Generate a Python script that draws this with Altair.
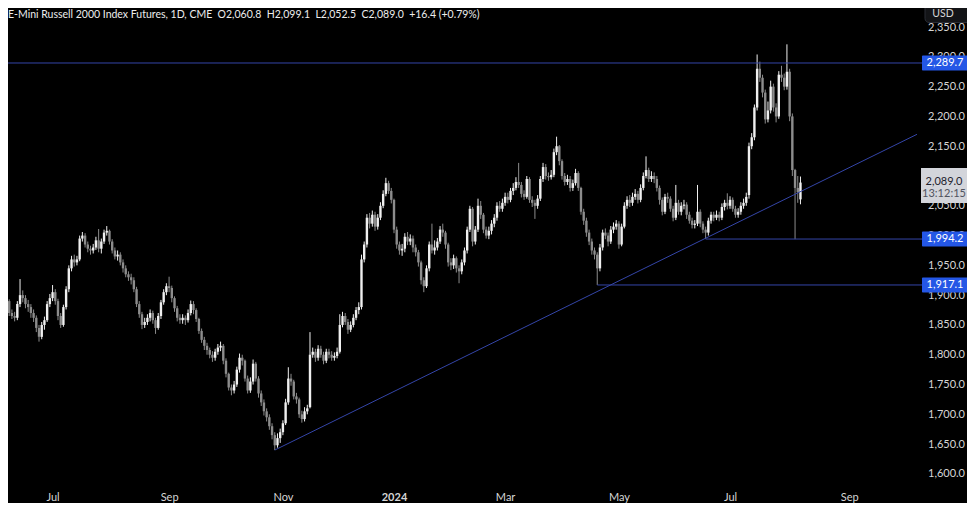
import altair as alt
import pandas as pd

# ---- daily OHLC, one value per trading day (Jun 7 2023 .. Aug 7 2024) ----
opens = [
    1878,1890,1870,1865,1862,1885,1900,1895,1885,1880,
    1870,1862,1845,1830,1850,1858,1885,1895,1905,1890,
    1865,1850,1880,1910,1945,1960,1955,1960,1995,2000,
    1985,1978,1975,1980,1992,1978,1990,2005,2008,1990,
    1975,1965,1968,1955,1945,1935,1930,1925,1910,1885,
    1868,1850,1855,1862,1870,1858,1845,1865,1888,1905,
    1915,1912,1895,1878,1862,1858,1862,1858,1870,1885,
    1875,1860,1840,1825,1815,1808,1800,1795,1805,1812,
    1815,1790,1768,1745,1740,1750,1775,1795,1790,1760,
    1740,1755,1785,1760,1735,1720,1705,1695,1680,1665,
    1648,1660,1670,1685,1720,1760,1755,1730,1725,1700,
    1692,1705,1712,1800,1805,1795,1810,1800,1790,1805,
    1800,1795,1798,1805,1850,1865,1855,1842,1850,1862,
    1875,1880,1960,1985,2030,2020,2035,2015,2030,2050,
    2070,2088,2075,2060,2010,1985,1975,1978,1998,1990,
    1995,1980,1972,1955,1925,1915,1945,1985,1975,1980,
    1990,2010,2005,1985,1955,1950,1962,1945,1940,1955,
    1975,2010,2045,1990,2010,2050,2035,2010,2000,2008,
    2020,2030,2050,2045,2055,2065,2060,2075,2080,2090,
    2085,2070,2065,2095,2060,2055,2050,2062,2095,2115,
    2100,2098,2102,2140,2150,2125,2100,2090,2095,2080,
    2088,2105,2080,2040,2025,2005,1990,1975,1968,1945,
    1980,2005,2000,1990,2010,2015,2020,1985,2015,2050,
    2060,2055,2065,2070,2060,2080,2100,2110,2095,2100,
    2095,2080,2060,2040,2065,2062,2045,2030,2055,2040,
    2050,2052,2035,2025,2018,2020,2040,2020,2010,2005,
    2025,2035,2030,2035,2030,2048,2055,2050,2060,2045,
    2035,2040,2050,2055,2068,2150,2165,2215,2280,2265,
    2240,2195,2210,2250,2215,2200,2270,2265,2250,2275,
    2200,2110,2080,2060.8,
]
highs = [
    1897,1893,1876,1872,1890,1927,1908,1900,1892,1885,
    1876,1866,1850,1855,1864,1890,1902,1917,1910,1894,
    1870,1884,1915,1950,1966,1968,1966,2000,2006,2004,
    1990,1983,1986,1998,2011,1995,2010,2016,2010,1994,
    1980,1975,1972,1960,1950,1940,1936,1930,1914,1890,
    1872,1862,1868,1876,1874,1862,1870,1892,1910,1920,
    1931,1916,1898,1882,1868,1868,1866,1876,1891,1890,
    1878,1862,1844,1830,1820,1812,1806,1810,1818,1822,
    1818,1794,1770,1750,1756,1780,1802,1800,1792,1765,
    1762,1792,1788,1764,1740,1725,1710,1700,1685,1670,
    1668,1676,1690,1726,1779,1768,1758,1736,1728,1706,
    1712,1716,1838,1812,1810,1816,1815,1805,1810,1810,
    1806,1804,1812,1868,1872,1870,1860,1856,1868,1880,
    1888,1968,1990,2036,2038,2042,2040,2036,2056,2076,
    2097,2092,2080,2062,2015,1990,1986,2004,2006,2002,
    2000,1985,1976,1958,1930,1950,1990,2020,1992,1996,
    2016,2020,2008,1988,1962,1968,1965,1950,1960,1980,
    2015,2050,2048,2016,2062,2058,2038,2015,2015,2026,
    2036,2056,2058,2062,2072,2072,2080,2088,2098,2122,
    2090,2076,2100,2098,2066,2060,2068,2100,2122,2120,
    2106,2110,2146,2166,2152,2128,2105,2102,2100,2094,
    2112,2108,2082,2045,2030,2010,1995,1980,1972,1986,
    2010,2012,2005,2016,2022,2026,2024,2020,2056,2066,
    2068,2072,2078,2075,2086,2106,2133,2114,2108,2106,
    2100,2084,2064,2070,2072,2066,2050,2085,2060,2056,
    2060,2056,2040,2030,2026,2085,2044,2024,2015,2030,
    2040,2040,2042,2040,2054,2060,2071,2066,2064,2050,
    2046,2056,2062,2072,2156,2172,2220,2304,2292,2270,
    2245,2225,2260,2255,2222,2276,2285,2272,2321,2280,
    2205,2112,2100,2099.1,
]
lows = [
    1858,1865,1860,1856,1858,1880,1888,1878,1872,1862,
    1855,1838,1822,1826,1842,1855,1880,1890,1884,1858,
    1845,1847,1876,1905,1940,1948,1950,1957,1990,1980,
    1972,1968,1970,1976,1972,1970,1986,2000,1985,1970,
    1960,1958,1950,1938,1930,1924,1918,1905,1880,1862,
    1843,1845,1850,1856,1852,1835,1842,1860,1884,1900,
    1905,1888,1872,1856,1852,1852,1850,1854,1866,1868,
    1855,1835,1820,1808,1800,1794,1788,1790,1800,1806,
    1784,1762,1740,1732,1735,1746,1770,1782,1755,1735,
    1736,1750,1755,1728,1714,1698,1688,1674,1658,1640,
    1644,1652,1665,1682,1716,1748,1725,1718,1694,1686,
    1688,1700,1710,1795,1788,1790,1795,1784,1786,1794,
    1790,1790,1794,1802,1846,1850,1835,1838,1846,1858,
    1868,1876,1955,1980,2012,2015,2008,2010,2026,2046,
    2066,2070,2054,2004,1978,1968,1966,1972,1984,1984,
    1972,1965,1948,1918,1905,1912,1940,1970,1968,1975,
    1986,1998,1978,1948,1942,1944,1938,1920,1935,1950,
    1970,2006,1982,1985,2006,2028,2004,1995,1994,2002,
    2014,2025,2040,2040,2050,2054,2056,2068,2076,2080,
    2064,2060,2062,2055,2048,2028,2045,2058,2090,2094,
    2092,2094,2098,2135,2118,2094,2084,2085,2074,2075,
    2084,2075,2035,2018,1998,1984,1968,1960,1917.1,1940,
    1975,1994,1982,1986,2004,2010,1978,1982,2012,2045,
    2048,2050,2060,2054,2056,2076,2096,2090,2090,2088,
    2074,2052,2034,2036,2055,2040,2024,2026,2035,2034,
    2044,2028,2020,2012,2012,2016,2014,2004,1994.2,2000,
    2020,2024,2026,2024,2026,2042,2044,2045,2040,2030,
    2030,2035,2045,2050,2062,2145,2160,2210,2258,2232,
    2188,2190,2205,2208,2190,2196,2258,2244,2245,2192,
    2100,1994,2055,2052.5,
]
closes = [
    1890,1870,1865,1862,1885,1900,1895,1885,1880,1870,
    1862,1845,1830,1850,1858,1885,1895,1905,1890,1865,
    1850,1880,1910,1945,1960,1955,1960,1995,2000,1985,
    1978,1975,1980,1992,1978,1990,2005,2008,1990,1975,
    1965,1968,1955,1945,1935,1930,1925,1910,1885,1868,
    1850,1855,1862,1870,1858,1845,1865,1888,1905,1915,
    1912,1895,1878,1862,1858,1862,1858,1870,1885,1875,
    1860,1840,1825,1815,1808,1800,1795,1805,1812,1815,
    1790,1768,1745,1740,1750,1775,1795,1790,1760,1740,
    1755,1785,1760,1735,1720,1705,1695,1680,1665,1648,
    1660,1670,1685,1720,1760,1755,1730,1725,1700,1692,
    1705,1710,1800,1805,1795,1810,1800,1790,1805,1800,
    1795,1798,1805,1850,1865,1855,1842,1850,1862,1875,
    1880,1960,1985,2030,2020,2035,2015,2030,2050,2070,
    2088,2075,2060,2010,1985,1975,1978,1998,1990,1995,
    1980,1972,1955,1925,1915,1945,1985,1975,1980,1990,
    2010,2005,1985,1955,1950,1962,1945,1940,1955,1975,
    2010,2045,1990,2010,2050,2035,2010,2000,2008,2020,
    2030,2050,2045,2055,2065,2060,2075,2080,2090,2085,
    2070,2065,2095,2060,2055,2050,2062,2095,2115,2100,
    2098,2102,2140,2150,2125,2100,2090,2095,2080,2088,
    2105,2080,2040,2025,2005,1990,1975,1968,1945,1980,
    2005,2000,1990,2010,2015,2020,1985,2015,2050,2060,
    2055,2065,2070,2060,2080,2100,2110,2095,2100,2095,
    2080,2060,2040,2065,2062,2045,2030,2055,2040,2050,
    2052,2035,2025,2018,2020,2040,2020,2010,2005,2025,
    2035,2030,2035,2030,2048,2055,2050,2060,2045,2035,
    2040,2050,2055,2065,2150,2165,2215,2280,2265,2240,
    2195,2210,2250,2215,2200,2270,2265,2250,2275,2200,
    2110,2080,2072.6,2089.0,
]

# ---- time axis (bar index of first trading day of each labelled month) ----
tick_index = [17, 60, 102, 143, 184, 226, 267, 311]
tick_labels = ["Jul", "Sep", "Nov", "2024", "Mar", "May", "Jul", "Sep"]
year_tick = 143

# ---- price axis ----
price_ticks = [1600, 1650, 1700, 1750, 1800, 1850, 1900, 1950, 2000,
               2050, 2100, 2150, 2200, 2250, 2300, 2350]

# ---- drawings ----
level_prices = [2289.7, 1994.2, 1917.1]
level_start = [-5, 258, 218]
level_end = [340, 340, 340]
level_text = ["2,289.7", "1,994.2", "1,917.1"]

trend_index = [99, 336]
trend_price = [1640.0, 2170.0]

last_price = [2089.0]
last_text = ["2,089.0"]
countdown_text = ["13:12:15"]

header = ("E-Mini Russell 2000 Index Futures, 1D, CME\u00a0\u00a0O2,060.8\u00a0\u00a0H2,099.1"
          "\u00a0\u00a0L2,052.5\u00a0\u00a0C2,089.0\u00a0\u00a0+16.4 (+0.79%)")

FONT = "Lato"
BG = "#000000"
LINE = "#3445a8"
BLUE = "#2457e6"
TXT = "#d6d6d6"

W, H = 914, 479
xscale = alt.Scale(domain=[2.4, 336.0], nice=False, zero=False)
yscale = alt.Scale(domain=[1578, 2382], nice=False, zero=False)

df = pd.DataFrame({"i": list(range(len(closes))), "open": opens, "high": highs,
                   "low": lows, "close": closes})

label_expr = " : ".join(f"datum.value == {v} ? '{t}'" for v, t in zip(tick_index, tick_labels)) + " : ''"

xaxis = alt.Axis(values=tick_index, labelExpr=label_expr, title=None, grid=False,
                 domain=False, ticks=False, labelColor=TXT, labelFontSize=11,
                 labelFont=FONT, labelPadding=4, labelFlush=False, labelOverlap=False,
                 labelFontWeight={"condition": {"test": f"datum.value == {year_tick}", "value": "bold"},
                                  "value": "normal"})
yaxis = alt.Axis(values=price_ticks, format=",.1f", orient="right", title=None, grid=False,
                 domain=False, ticks=False, labelColor=TXT, labelFontSize=11,
                 labelFont=FONT, labelAlign="center", labelPadding=24,
                 labelFlush=False, labelOverlap=False)


def X(field):
    return alt.X(field, scale=xscale, axis=xaxis)


def Y(field):
    return alt.Y(field, scale=yscale, axis=yaxis)


color = alt.Color("dir:N", scale=alt.Scale(domain=["up", "down"], range=["#efefef", "#8c8c8c"]),
                  legend=None)

base = alt.Chart(df).transform_calculate(
    dir="datum.close >= datum.open ? 'up' : 'down'")

wicks = base.mark_rule(clip=True, strokeWidth=1).encode(
    x=X("i:Q"), y=Y("low:Q"), y2="high:Q", color=color,
)
bodies = base.mark_bar(clip=True, width=2.4).encode(
    x=X("i:Q"), y=Y("open:Q"), y2="close:Q", color=color,
)

lv = pd.DataFrame({"price": level_prices, "start": level_start, "end": level_end, "label": level_text})
levels = alt.Chart(lv).mark_rule(clip=True, color=LINE, strokeWidth=1).encode(
    x=X("start:Q"), x2="end:Q", y=Y("price:Q"),
)

tr = pd.DataFrame({"i": trend_index, "price": trend_price})
trend = alt.Chart(tr).mark_line(clip=True, color=LINE, strokeWidth=1).encode(
    x=X("i:Q"), y=Y("price:Q"),
)

level_boxes = alt.Chart(lv).mark_rect(color=BLUE, yOffset=-7.5, y2Offset=7.5, cornerRadius=1).encode(
    x=alt.value(914), x2=alt.value(960), y=Y("price:Q"), y2="price:Q",
)
level_labels = alt.Chart(lv).mark_text(color="#ffffff", font=FONT, fontSize=11,
                                       align="center", baseline="middle").encode(
    x=alt.value(937), y=Y("price:Q"), text="label:N",
)

lp = pd.DataFrame({"price": last_price, "label": last_text, "cd": countdown_text})
price_box = alt.Chart(lp).mark_rect(color="#d3d5db", yOffset=-14.5, y2Offset=20.5).encode(
    x=alt.value(913), x2=alt.value(965), y=Y("price:Q"), y2="price:Q",
)
price_label = alt.Chart(lp).mark_text(color="#1e222d", font=FONT, fontSize=11,
                                      align="center", baseline="middle", dy=-1).encode(
    x=alt.value(936), y=Y("price:Q"), text="label:N",
)
countdown = alt.Chart(lp).mark_text(color="#50535e", font=FONT, fontSize=11,
                                    align="center", baseline="middle", dy=11.5).encode(
    x=alt.value(936), y=Y("price:Q"), text="cd:N",
)

ann = pd.DataFrame({"t": ["USD"], "h": [header]})
usd_box = alt.Chart(ann).mark_rect(fill="#131417", stroke="#2a2d35", strokeWidth=1,
                                   cornerRadius=4).encode(
    x=alt.value(917), x2=alt.value(972), y=alt.value(-8), y2=alt.value(14.5),
)
usd_text = alt.Chart(ann).mark_text(color=TXT, font=FONT, fontSize=10.5, align="center",
                                    baseline="middle").encode(
    x=alt.value(935), y=alt.value(6), text="t:N",
)
title = alt.Chart(ann).mark_text(color="#ededed", font=FONT, fontSize=10.5, align="left",
                                 baseline="top").encode(
    x=alt.value(0), y=alt.value(1.5), text="h:N",
)

chart = alt.layer(
    wicks, bodies, levels, trend, level_boxes, level_labels,
    price_box, price_label, countdown, usd_box, usd_text, title,
).properties(
    width=W, height=H,
    autosize=alt.AutoSizeParams(type="none"),
    padding={"left": 0, "top": 0, "right": 45, "bottom": 16},
).configure(background=BG).configure_view(strokeWidth=0, fill=BG)

chart.save("out.html", embed_options={"renderer": "svg", "actions": False})
